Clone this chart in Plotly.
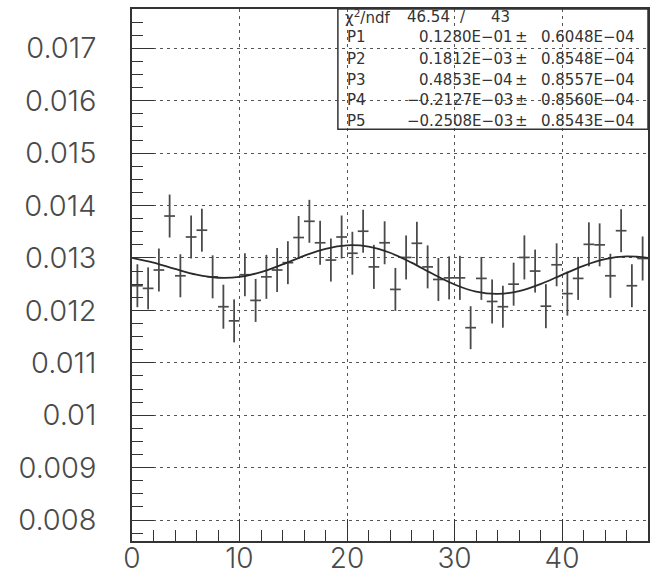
import plotly.graph_objects as go

# ---- data ----
bin_centers = [0.5, 1.5, 2.5, 3.5, 4.5, 5.5, 6.5, 7.5, 8.5, 9.5, 10.5, 11.5,
               12.5, 13.5, 14.5, 15.5, 16.5, 17.5, 18.5, 19.5, 20.5, 21.5, 22.5, 23.5,
               24.5, 25.5, 26.5, 27.5, 28.5, 29.5, 30.5, 31.5, 32.5, 33.5, 34.5, 35.5,
               36.5, 37.5, 38.5, 39.5, 40.5, 41.5, 42.5, 43.5, 44.5, 45.5, 46.5, 47.5]
values = [0.01247, 0.01242, 0.01277, 0.01380, 0.01266, 0.01340, 0.01353, 0.01264,
          0.01207, 0.01180, 0.01268, 0.01219, 0.01264, 0.01277, 0.01291, 0.01339,
          0.01370, 0.01329, 0.01296, 0.01340, 0.01309, 0.01351, 0.01283, 0.01329,
          0.01240, 0.01301, 0.01328, 0.01283, 0.01259, 0.01262, 0.01262, 0.01167,
          0.01261, 0.01217, 0.01207, 0.01250, 0.01301, 0.01275, 0.01208, 0.01287,
          0.01232, 0.01261, 0.01326, 0.01325, 0.01266, 0.01352, 0.01247, 0.01299]
errors = [0.00041, 0.00040, 0.00041, 0.00041, 0.00041, 0.00041, 0.00041, 0.00041,
          0.00042, 0.00041, 0.00041, 0.00041, 0.00042, 0.00042, 0.00041, 0.00041,
          0.00041, 0.00042, 0.00041, 0.00041, 0.00041, 0.00041, 0.00042, 0.00041,
          0.00041, 0.00042, 0.00041, 0.00041, 0.00041, 0.00041, 0.00042, 0.00041,
          0.00041, 0.00042, 0.00040, 0.00041, 0.00042, 0.00041, 0.00042, 0.00041,
          0.00042, 0.00041, 0.00042, 0.00041, 0.00042, 0.00041, 0.00041, 0.00042]
bin_half_width = 0.5

fit_x = [0, 2, 4, 6, 8, 10, 12, 14, 16, 18, 20, 22, 24,
         26, 28, 30, 32, 34, 36, 38, 40, 42, 44, 46, 48]
fit_y = [0.013002, 0.012911, 0.012790, 0.012681, 0.012623, 0.012639, 0.012730,
         0.012877, 0.013040, 0.013175, 0.013242, 0.013217, 0.013099, 0.012911,
         0.012693, 0.012494, 0.012358, 0.012314, 0.012368, 0.012502, 0.012678,
         0.012850, 0.012977, 0.013030, 0.013002]

x_tick_vals = [0, 10, 20, 30, 40]
x_tick_text = ["0", "10", "20", "30", "40"]
y_tick_vals = [0.008, 0.009, 0.010, 0.011, 0.012, 0.013, 0.014, 0.015, 0.016, 0.017]
y_tick_text = ["0.008", "0.009", "0.01", "0.011", "0.012", "0.013", "0.014",
               "0.015", "0.016", "0.017"]

chi2_text = ["χ<sup>2</sup>/ndf", "46.54", "/", "43"]
par_names = ["P1", "P2", "P3", "P4", "P5"]
par_values = ["0.1280E−01", "0.1812E−03", "0.4853E−04", "−0.2127E−03", "−0.2508E−03"]
par_errors = ["0.6048E−04", "0.8548E−04", "0.8557E−04", "0.8560E−04", "0.8543E−04"]

# ---- figure ----
INK = "#333333"
fig = go.Figure()
fig.add_trace(go.Scatter(
    x=bin_centers, y=values, mode="markers",
    marker=dict(size=1, color="rgba(0,0,0,0)"),
    error_y=dict(type="data", array=errors, color="#4a4a4a", thickness=1.8, width=0),
    error_x=dict(type="constant", value=bin_half_width, color="#4a4a4a", thickness=1.7, width=0),
    showlegend=False, hoverinfo="skip"))
fig.add_trace(go.Scatter(
    x=fit_x, y=fit_y, mode="lines",
    line=dict(color="#2a2a2a", width=1.8, shape="spline", smoothing=1.0),
    showlegend=False, hoverinfo="skip"))

y_tick_font = dict(family="Inter, DejaVu Sans", size=29, color="#4a4a4a", weight=300)
x_tick_font = dict(family="Inter, DejaVu Sans", size=28, color="#4a4a4a", weight=300)
fig.update_layout(
    width=653, height=575,
    margin=dict(l=132, r=5, t=9, b=34, pad=0),
    paper_bgcolor="white", plot_bgcolor="white",
    xaxis=dict(range=[0, 48], tickmode="array", tickvals=x_tick_vals, ticktext=x_tick_text,
               automargin=False,
               ticks="inside", ticklen=22, tickwidth=1, tickcolor=INK,
               showline=True, mirror=True, linecolor=INK, linewidth=1.5,
               showgrid=True, gridcolor="#555555", gridwidth=1, griddash="3px,4px",
               zeroline=False, tickfont=x_tick_font, ticklabelstandoff=-8,
               minor=dict(tick0=0, dtick=2, ticks="inside", ticklen=11, tickcolor=INK,
                          tickwidth=1, showgrid=False)),
    yaxis=dict(range=[0.0076, 0.01775], tickmode="array", tickvals=y_tick_vals,
               ticktext=y_tick_text, automargin=False,
               ticks="inside", ticklen=22, tickwidth=1, tickcolor=INK,
               showline=True, mirror=True, linecolor=INK, linewidth=1.5,
               showgrid=True, gridcolor="#555555", gridwidth=1, griddash="3px,4px",
               zeroline=False, tickfont=y_tick_font, ticklabelstandoff=28,
               minor=dict(tick0=0.008, dtick=0.00025, ticks="inside", ticklen=11,
                          tickcolor=INK, tickwidth=1, showgrid=False)),
)

# stats box
fig.add_shape(type="rect", xref="paper", yref="paper", x0=0.399, x1=1.0, y0=0.774, y1=1.0,
              line=dict(color=INK, width=1.5), fillcolor="rgba(0,0,0,0)")

box_font = dict(family="DejaVu Sans", size=15, color="#333333")
row_y = [0.9855, 0.9468, 0.9060, 0.8665, 0.8289, 0.7900]

def ann(text, x, y, anchor):
    fig.add_annotation(text=text, xref="paper", yref="paper", x=x, y=y,
                       xanchor=anchor, yanchor="middle", showarrow=False, font=box_font)

ann(chi2_text[0], 0.409, row_y[0], "left")
ann(chi2_text[1], 0.620, row_y[0], "right")
ann(chi2_text[2], 0.6415, row_y[0], "center")
ann(chi2_text[3], 0.7364, row_y[0], "right")
for i in range(5):
    ann(par_names[i], 0.412, row_y[i + 1], "left")
    ann(par_values[i], 0.7422, row_y[i + 1], "right")
    ann("±", 0.7539, row_y[i + 1], "center")
    ann(par_errors[i], 0.978, row_y[i + 1], "right")

fig.write_html("out.html")
